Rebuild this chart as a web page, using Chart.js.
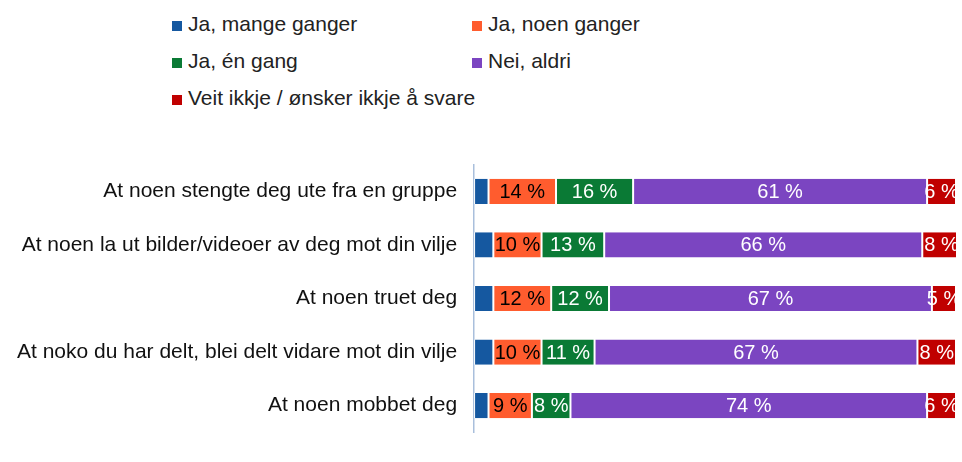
<!DOCTYPE html>
<html><head><meta charset="utf-8">
<script src="https://cdn.jsdelivr.net/npm/chart.js@4"></script>
<style>
body{margin:0;background:#fff;font-family:"Liberation Sans",Arial,sans-serif;}
#legend{position:absolute;left:172px;top:12px;width:560px;font-size:21px;color:#222;}
.item{position:absolute;white-space:nowrap;}
.sw{display:inline-block;width:10px;height:10px;margin-right:6px;}
#wrap{position:absolute;left:0;top:135px;width:962px;height:327px;}
</style></head><body>
<div id="legend"></div>
<div id="wrap"><canvas id="c"></canvas></div>
<script>
const categories = ['At noen stengte deg ute fra en gruppe','At noen la ut bilder/videoer av deg mot din vilje','At noen truet deg','At noko du har delt, blei delt vidare mot din vilje','At noen mobbet deg'];
const seriesNames = ['Ja, mange ganger','Ja, noen ganger','Ja, én gang','Nei, aldri','Veit ikkje / ønsker ikkje å svare'];
const mange = [3, 4, 4, 4, 3];
const noen = [14, 10, 12, 10, 9];
const enGang = [16, 13, 12, 11, 8];
const aldri = [61, 66, 67, 67, 74];
const veit = [6, 8, 5, 8, 6];
const colors = ['#1558a0','#ff5c2e','#0a7a35','#7b45c1','#c00000'];
const labelColors = [null,'#000','#fff','#fff','#fff'];
const values = [mange, noen, enGang, aldri, veit];

const pos = [[0,0],[300,0],[0,37],[300,37],[0,74]];
const lg = document.getElementById('legend');
seriesNames.forEach((n,i)=>{
  const d=document.createElement('div');d.className='item';
  d.style.left=pos[i][0]+'px';d.style.top=pos[i][1]+'px';
  d.innerHTML='<span class="sw" style="background:'+colors[i]+'"></span>'+n;
  lg.appendChild(d);
});

const labelPlugin = {
  id:'seglabels',
  afterDatasetsDraw(chart){
    const ctx=chart.ctx;
    ctx.save();ctx.font='20px "Liberation Sans", Arial';ctx.textAlign='center';ctx.textBaseline='middle';
    chart.data.datasets.forEach((ds,di)=>{
      if(!labelColors[di]) return;
      chart.getDatasetMeta(di).data.forEach((bar,j)=>{
        ctx.fillStyle=labelColors[di];
        ctx.fillText(ds.data[j]+' %',(bar.x+bar.base)/2,bar.y+1);
      });
    });
    ctx.restore();
  }
};

new Chart(document.getElementById('c'),{
  type:'bar',
  data:{labels:categories,datasets:seriesNames.map((n,i)=>({label:n,data:values[i],backgroundColor:colors[i],borderColor:'#fff',borderWidth:{left:1,right:1},borderSkipped:false,barPercentage:0.47,categoryPercentage:1}))},
  options:{
    indexAxis:'y',responsive:true,maintainAspectRatio:false,animation:false,
    layout:{padding:{right:6,top:0,bottom:0}},
    plugins:{legend:{display:false},tooltip:{enabled:false}},
    scales:{
      x:{stacked:true,min:0,max:100,display:false},
      y:{stacked:true,grid:{display:false,drawTicks:false},border:{color:'#a9bfdc',width:1.5},
         ticks:{color:'#111',font:{size:21,family:'"Liberation Sans", Arial'},padding:17}}
    }
  },
  plugins:[labelPlugin]
});
</script></body></html>
